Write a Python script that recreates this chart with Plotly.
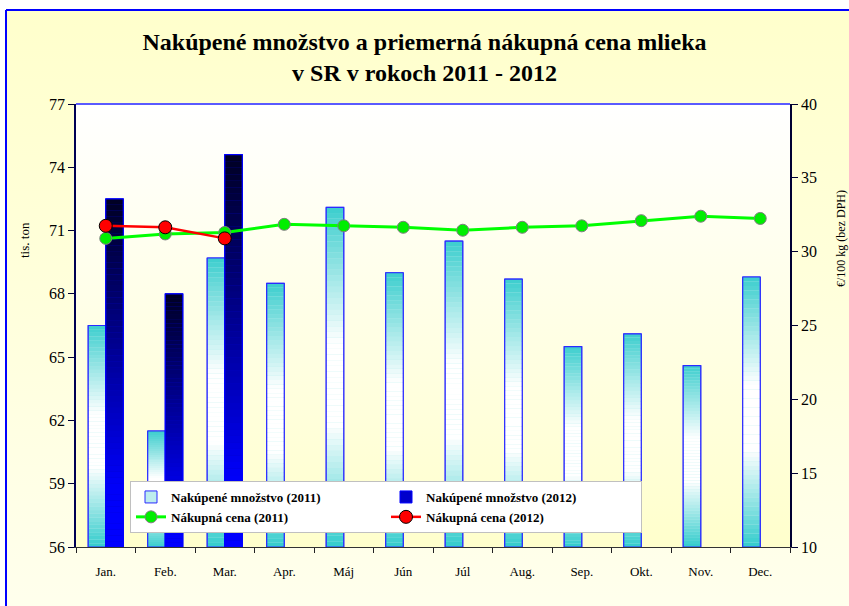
import base64
import plotly.graph_objects as go

# ---------------- data ----------------
months = ["Jan.", "Feb.", "Mar.", "Apr.", "Máj", "Jún", "Júl", "Aug.", "Sep.", "Okt.", "Nov.", "Dec."]
qty_2011 = [66.5, 61.5, 69.7, 68.5, 72.1, 69.0, 70.5, 68.7, 65.5, 66.1, 64.6, 68.8]
qty_2012 = [72.5, 68.0, 74.6]
price_2011 = [30.9, 31.2, 31.3, 31.85, 31.75, 31.65, 31.45, 31.65, 31.75, 32.1, 32.4, 32.25]
price_2012 = [31.75, 31.65, 30.9]

name_q11 = "Nakúpené množstvo (2011)"
name_q12 = "Nakúpené množstvo (2012)"
name_p11 = "Nákupná cena (2011)"
name_p12 = "Nákupná cena (2012)"
title_text = "<b>Nakúpené množstvo a priemerná nákupná cena mlieka<br>v SR v rokoch 2011 - 2012</b>"
ytitle_left = "tis. ton"
ytitle_right = "€/100 kg (bez DPH)"

Y_MIN, Y_MAX = 56, 77
Y2_MIN, Y2_MAX = 10, 40

# ---------------- geometry ----------------
W, H = 849, 606
ML, MR, MT, MB = 76, 59, 104, 59
PW, PH = W - ML - MR, H - MT - MB
FONT = "Liberation Serif, Times New Roman, serif"


def px_x(px):
    return (px - ML) / PW


def px_y(py):
    return (H - MB - py) / PH


# gradient helpers (fraction measured from bar bottom)
grad_2011 = [(0.0, (0x33, 0xCC, 0xCC)), (0.36, (0xFF, 0xFF, 0xFF)), (0.60, (0xFF, 0xFF, 0xFF)), (1.0, (0x3C, 0xCE, 0xCE))]
grad_2012 = [(0.0, (0x00, 0x00, 0xFF)), (0.18, (0x00, 0x00, 0xF8)), (1.0, (0x00, 0x00, 0x22))]


def cs(stops, f):
    for (f0, c0), (f1, c1) in zip(stops[:-1], stops[1:]):
        if f0 <= f <= f1:
            t = (f - f0) / (f1 - f0) if f1 > f0 else 0
            return "rgb(%d,%d,%d)" % tuple(round(a + (b - a) * t) for a, b in zip(c0, c1))
    return "rgb(%d,%d,%d)" % stops[-1][1]


fig = go.Figure()
NSEG = 60


def add_gradient_bars(xs, vals, stops, group, legend_color, line_color, name):
    # legend-carrying data bar (covered by the gradient segments)
    fig.add_trace(go.Bar(x=xs, y=[v - Y_MIN for v in vals], base=Y_MIN, name=name,
                         offsetgroup=group, marker=dict(color=legend_color, line=dict(color=line_color, width=1)),
                         hoverinfo="skip"))
    for k in range(NSEG):
        fig.add_trace(go.Bar(
            x=xs,
            y=[(v - Y_MIN) / NSEG for v in vals],
            base=[Y_MIN + (v - Y_MIN) * k / NSEG for v in vals],
            offsetgroup=group, showlegend=False, hoverinfo="skip",
            marker=dict(color=cs(stops, (k + 0.5) / NSEG), line=dict(width=0)),
        ))
    # outline on top
    fig.add_trace(go.Bar(x=xs, y=[v - Y_MIN for v in vals], base=Y_MIN, showlegend=False,
                         offsetgroup=group, marker=dict(color="rgba(0,0,0,0)", line=dict(color=line_color, width=1.2)),
                         hoverinfo="skip"))


add_gradient_bars(months, qty_2011, grad_2011, "a", "#BDEDED", "#2B2BFF", name_q11)
add_gradient_bars(months[:len(qty_2012)], qty_2012, grad_2012, "b", "#0000CC", "#0000FF", name_q12)

fig.add_trace(go.Scatter(x=months, y=price_2011, yaxis="y2", mode="lines+markers", name=name_p11,
                         line=dict(color="#00FF00", width=3),
                         marker=dict(size=12, color="#00EE00", line=dict(color="#7F7F7F", width=1))))
fig.add_trace(go.Scatter(x=months[:len(price_2012)], y=price_2012, yaxis="y2", mode="lines+markers", name=name_p12,
                         line=dict(color="#FF0000", width=2.5),
                         marker=dict(size=13, color="#FF0000", line=dict(color="#000000", width=1))))


def svg_grad(c_top, c_bot):
    svg = ('<svg xmlns="http://www.w3.org/2000/svg" width="100" height="100" viewBox="0 0 100 100" '
           'preserveAspectRatio="none"><defs><linearGradient id="g" x1="0" y1="0" x2="0" y2="1">'
           '<stop offset="0" stop-color="%s"/><stop offset="1" stop-color="%s"/></linearGradient></defs>'
           '<rect width="100" height="100" fill="url(#g)"/></svg>') % (c_top, c_bot)
    return "data:image/svg+xml;base64," + base64.b64encode(svg.encode()).decode()


fx0, fx1 = px_x(6), px_x(1000)
fy1, fy0 = px_y(10), px_y(800)

fig.update_layout(
    width=W, height=H,
    margin=dict(l=ML, r=MR, t=MT, b=MB),
    paper_bgcolor="white",
    plot_bgcolor="rgba(0,0,0,0)",
    barmode="group", bargap=0.41, bargroupgap=0,
    font=dict(family=FONT, color="black"),
    title=dict(text=title_text, x=0.5, xref="container", xanchor="center",
               y=1 - 49.5 / H, yref="container", yanchor="middle",
               font=dict(family=FONT, size=24, color="black")),
    xaxis=dict(type="category", tickson="boundaries", ticks="outside", ticklen=5, tickcolor="#222222",
               showline=True, linecolor="#333333", linewidth=1, showgrid=False,
               tickfont=dict(size=13), ticklabelstandoff=12, range=[-0.5, 11.5]),
    yaxis=dict(range=[Y_MIN, Y_MAX], dtick=3, tick0=Y_MIN, ticks="outside", ticklen=6, tickcolor="#000033",
               showline=True, linecolor="#000055", linewidth=1.5, showgrid=False, zeroline=False,
               tickfont=dict(size=16)),
    yaxis2=dict(range=[Y2_MIN, Y2_MAX], dtick=5, tick0=Y2_MIN, overlaying="y", side="right",
                ticks="outside", ticklen=6, tickcolor="#000033",
                showline=True, linecolor="#000033", linewidth=1.5, showgrid=False, zeroline=False,
                tickfont=dict(size=16)),
    legend=dict(orientation="h", x=px_x(130), y=px_y(481), xanchor="left", yanchor="top",
                bgcolor="white", bordercolor="#C0C0C0", borderwidth=1,
                entrywidth=210, entrywidthmode="pixels",
                font=dict(family=FONT, size=13, color="black", weight="bold"),
                traceorder="normal", itemwidth=30),
    images=[
        dict(source=svg_grad("#FFFFCC", "#FFFFF7"), xref="paper", yref="paper",
             x=fx0, y=fy1, sizex=fx1 - fx0, sizey=fy1 - fy0, xanchor="left", yanchor="top",
             sizing="stretch", layer="below"),
        dict(source=svg_grad("#FFFFFF", "#FFFFCC"), xref="paper", yref="paper",
             x=0, y=1, sizex=1, sizey=1, xanchor="left", yanchor="top",
             sizing="stretch", layer="below"),
    ],
    shapes=[
        dict(type="line", xref="paper", yref="paper", x0=fx0, x1=fx0, y0=fy0, y1=fy1,
             line=dict(color="#0000FF", width=2), layer="below"),
        dict(type="line", xref="paper", yref="paper", x0=fx0, x1=fx1, y0=fy1, y1=fy1,
             line=dict(color="#0000FF", width=2), layer="below"),
        dict(type="line", xref="paper", yref="paper", x0=0, x1=1, y0=1, y1=1,
             line=dict(color="#5A5AFF", width=2), layer="above"),
    ],
    annotations=[
        dict(text=ytitle_left, xref="paper", yref="paper", x=px_x(24), y=px_y(240), showarrow=False,
             textangle=-90, font=dict(size=13), xanchor="center", yanchor="middle"),
        dict(text=ytitle_right, xref="paper", yref="paper", x=px_x(841), y=px_y(239), showarrow=False,
             textangle=-90, font=dict(size=12), xanchor="center", yanchor="middle"),
    ],
    showlegend=True,
)

fig.write_html("out.html", config={"displayModeBar": False},
               post_script="document.body.style.margin='0';document.body.style.overflow='hidden';")
